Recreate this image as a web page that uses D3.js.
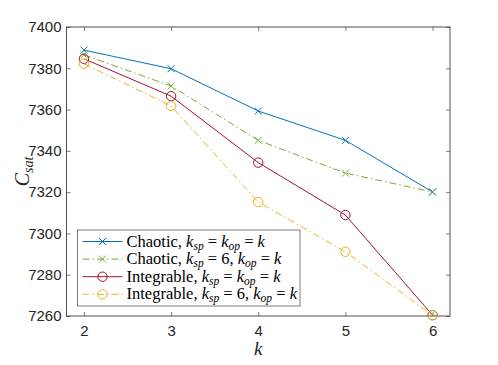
<!DOCTYPE html>
<html>
<head>
<meta charset="utf-8">
<script src="https://cdn.jsdelivr.net/npm/d3@7"></script>
<style>
  body { margin: 0; background: #fff; }
  svg { display: block; }
</style>
</head>
<body>
<div class="chart"></div>
<script>
// data
const kValues = [2, 3, 4, 5, 6];
const chaoticSame = [7388.8, 7379.8, 7359.3, 7345.1, 7320.1];
const chaoticSix = [7386.5, 7371.4, 7345.1, 7329.2, 7320.1];
const integrableSame = [7384.6, 7366.5, 7334.3, 7308.9, 7260.4];
const integrableSix = [7382.2, 7361.8, 7315.2, 7291.1, 7260.4];
const yTicks = [7260, 7280, 7300, 7320, 7340, 7360, 7380, 7400];

const series = [
  {name: "Chaotic", six: false, values: chaoticSame, color: "#0072BD", marker: "x", dash: null},
  {name: "Chaotic", six: true, values: chaoticSix, color: "#77AC30", marker: "x", dash: "7,3,1.5,3"},
  {name: "Integrable", six: false, values: integrableSame, color: "#A2142F", marker: "o", dash: null},
  {name: "Integrable", six: true, values: integrableSix, color: "#EDB120", marker: "o", dash: "7,3,1.5,3"}
];

const W = 498, H = 365;
const margin = {top: 27, right: 48, bottom: 49, left: 66.5};
const width = W - margin.left - margin.right;
const height = H - margin.top - margin.bottom;

const svg = d3.select(".chart").append("svg")
  .attr("width", W).attr("height", H);
const g = svg.append("g")
  .attr("transform", `translate(${margin.left},${margin.top})`);

const x = d3.scaleLinear().domain([1.8, 6.2]).range([0, width]);
const y = d3.scaleLinear().domain([7260, 7400]).range([height, 0]);

const axisColor = "#262626";
const tickFont = "'Liberation Sans', Arial, sans-serif";

// axes with inward ticks, box on
const bottomAxis = g.append("g").attr("transform", `translate(0,${height})`)
  .call(d3.axisBottom(x).tickValues(kValues).tickFormat(d3.format("d")).tickSizeInner(-4).tickSizeOuter(0).tickPadding(9));
const leftAxis = g.append("g")
  .call(d3.axisLeft(y).tickValues(yTicks).tickFormat(d3.format("d")).tickSizeInner(-4).tickSizeOuter(0).tickPadding(5));
const topAxis = g.append("g")
  .call(d3.axisTop(x).tickValues(kValues).tickFormat("").tickSizeInner(-4).tickSizeOuter(0));
const rightAxis = g.append("g").attr("transform", `translate(${width},0)`)
  .call(d3.axisRight(y).tickValues(yTicks).tickFormat("").tickSizeInner(-4).tickSizeOuter(0));

[bottomAxis, leftAxis, topAxis, rightAxis].forEach(a => {
  a.select(".domain").remove();
  a.selectAll(".tick line").attr("stroke", axisColor).attr("stroke-width", 0.6);
  a.selectAll("text").attr("fill", axisColor).attr("font-family", tickFont).attr("font-size", 15);
});

g.append("rect")
  .attr("width", width).attr("height", height)
  .attr("fill", "none").attr("stroke", axisColor).attr("stroke-width", 0.8);

// lines
const line = d3.line()
  .x((d, i) => x(kValues[i]))
  .y(d => y(d));

function drawMarker(sel, type, color) {
  if (type === "x") {
    sel.append("path")
      .attr("d", "M-3.5,-3.5L3.5,3.5M-3.5,3.5L3.5,-3.5")
      .attr("stroke", color).attr("stroke-width", 1).attr("fill", "none");
  } else {
    sel.append("circle").attr("r", 4.7)
      .attr("stroke", color).attr("stroke-width", 1).attr("fill", "none");
  }
}

series.forEach(s => {
  g.append("path")
    .datum(s.values)
    .attr("fill", "none")
    .attr("stroke", s.color)
    .attr("stroke-width", 1)
    .attr("stroke-dasharray", s.dash)
    .attr("d", line);

  g.append("g").selectAll("g")
    .data(s.values)
    .join("g")
    .attr("transform", (d, i) => `translate(${x(kValues[i])},${y(d)})`)
    .each(function() { drawMarker(d3.select(this), s.marker, s.color); });
});

// axis labels
const serif = "'Liberation Serif', 'Times New Roman', serif";
svg.append("text")
  .attr("x", margin.left + x(4)).attr("y", 355)
  .attr("text-anchor", "middle")
  .attr("font-family", serif).attr("font-style", "italic").attr("font-size", 19)
  .attr("fill", axisColor)
  .text("k");

const yl = svg.append("text")
  .attr("transform", `translate(29,${margin.top + height / 2}) rotate(-90)`)
  .attr("text-anchor", "middle")
  .attr("font-family", serif).attr("font-style", "italic").attr("font-size", 20)
  .attr("fill", axisColor);
yl.append("tspan").text("C");
yl.append("tspan").attr("font-size", 14).attr("dy", 4).text("sat");

// legend
const lg = svg.append("g").attr("transform", "translate(77.5,230)");
lg.append("rect")
  .attr("width", 222.5).attr("height", 76)
  .attr("fill", "#fff").attr("stroke", axisColor).attr("stroke-width", 0.6);

series.forEach((s, i) => {
  const row = lg.append("g").attr("transform", `translate(0,${11.5 + i * 17.6})`);
  row.append("line")
    .attr("x1", 5).attr("x2", 45)
    .attr("stroke", s.color).attr("stroke-width", 1)
    .attr("stroke-dasharray", s.dash);
  drawMarker(row.append("g").attr("transform", "translate(25,0)"), s.marker, s.color);

  const t = row.append("text")
    .attr("x", 49).attr("y", 5)
    .attr("font-family", serif).attr("font-size", 16.5).attr("fill", "#000");
  t.append("tspan").text(s.name + ", ");
  t.append("tspan").attr("font-style", "italic").text("k");
  t.append("tspan").attr("font-style", "italic").attr("font-size", 11.5).attr("dy", 3).text("sp");
  if (s.six) {
    t.append("tspan").attr("dy", -3).text(" = 6, ");
  } else {
    t.append("tspan").attr("dy", -3).text(" = ");
  }
  t.append("tspan").attr("font-style", "italic").text("k");
  t.append("tspan").attr("font-style", "italic").attr("font-size", 11.5).attr("dy", 3).text("op");
  t.append("tspan").attr("dy", -3).text(" = ");
  t.append("tspan").attr("font-style", "italic").text("k");
});
</script>
</body>
</html>
